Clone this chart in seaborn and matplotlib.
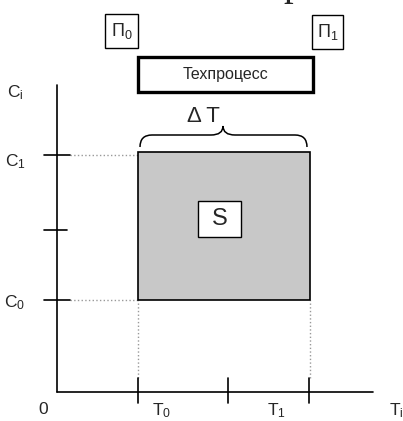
import matplotlib
matplotlib.use("Agg")
import matplotlib.pyplot as plt
import seaborn as sns
from matplotlib.path import Path
from matplotlib.patches import PathPatch, Rectangle

# diagram values (origin of the axes at 0, 0)
t_ticks = [81, 171, 252]          # T0, middle, T1
c_ticks = [92, 162, 237]          # C0, middle, C1
t_labels = ["T$_0$", "T$_1$"]
c_labels = ["C$_0$", "C$_1$"]
area_t = [81, 253]                # the shaded area S
area_c = [92, 240]
axis_len = [316, 307]             # length of T and C axes
process_box = [81, 256, 300, 335]  # Техпроцесс box: t0, t1, c0, c1
p_boxes = [[48, 81, 344, 378], [255, 286, 343, 377]]
p_labels = ["П$_0$", "П$_1$"]
s_box = [141, 184, 155, 191]
brace_t = [83, 166, 250]
brace_c = [245, 257, 266]

sns.set_style("white")
plt.rcParams["font.family"] = ["Liberation Sans", "DejaVu Sans"]
plt.rcParams["mathtext.fontset"] = "custom"
plt.rcParams["mathtext.rm"] = "Liberation Sans"
plt.rcParams["mathtext.it"] = "Liberation Sans"

fig = plt.figure(figsize=(4.03, 4.21), dpi=100)
ax = fig.add_axes([0, 0, 1, 1])
ax.set_xlim(-57, 346)
ax.set_ylim(-29, 392)
ax.axis("off")

lw = 1.2
# shaded area
ax.bar(area_t[0], area_c[1] - area_c[0], width=area_t[1] - area_t[0], bottom=area_c[0],
       align="edge", color="#c8c8c8", edgecolor="black", linewidth=lw, zorder=2)

# dotted guide lines
for c in (c_ticks[0], c_ticks[2]):
    ax.plot([13, area_t[0]], [c, c], ls=":", color="#999999", lw=1, zorder=1)
for t in (area_t[0], area_t[1]):
    ax.plot([t, t], [14, area_c[0]], ls=":", color="#999999", lw=1, zorder=1)

# axes
ax.plot([0, axis_len[0]], [0, 0], color="black", lw=lw)
ax.plot([0, 0], [0, axis_len[1]], color="black", lw=lw)
for t in t_ticks:
    ax.plot([t, t], [-11, 14], color="black", lw=lw)
for i, c in enumerate(c_ticks):
    ax.plot([-13, 13 if i != 1 else 10], [c, c], color="black", lw=lw)

# labels
fs = 12.5
ax.text(-14, -18, "0", ha="center", va="center", fontsize=fs)
ax.text(105, -19, t_labels[0], ha="center", va="center", fontsize=fs)
ax.text(219, -19, t_labels[1], ha="center", va="center", fontsize=fs)
ax.text(339, -19, "T$_\\mathrm{i}$", ha="center", va="center", fontsize=fs)
ax.text(-42, 299, "C$_\\mathrm{i}$", ha="center", va="center", fontsize=fs)
ax.text(-42, 230, c_labels[1], ha="center", va="center", fontsize=fs)
ax.text(-42, 89, c_labels[0], ha="center", va="center", fontsize=fs)

# S box
ax.add_patch(Rectangle((s_box[0], s_box[2]), s_box[1] - s_box[0], s_box[3] - s_box[2],
                       facecolor="white", edgecolor="black", lw=1, zorder=3))
ax.text((s_box[0] + s_box[1]) / 2, (s_box[2] + s_box[3]) / 2, "S",
        ha="center", va="center", fontsize=17, zorder=4)

# Техпроцесс box
ax.add_patch(Rectangle((process_box[0], process_box[2]), process_box[1] - process_box[0],
                       process_box[3] - process_box[2], facecolor="white",
                       edgecolor="black", lw=2.4, zorder=3))
ax.text((process_box[0] + process_box[1]) / 2, (process_box[2] + process_box[3]) / 2,
        "Техпроцесс", ha="center", va="center", fontsize=11.5, zorder=4)

# П boxes
for box, lab in zip(p_boxes, p_labels):
    ax.add_patch(Rectangle((box[0], box[2]), box[1] - box[0], box[3] - box[2],
                           facecolor="white", edgecolor="black", lw=1, zorder=3))
    ax.text((box[0] + box[1]) / 2, (box[2] + box[3]) / 2, lab,
            ha="center", va="center", fontsize=13, zorder=4)

# brace with ΔT
l, m, r = brace_t
lo, mid, hi = brace_c
verts = [(l, lo), (l, mid), (l + 12, mid), (m - 12, mid), (m, mid), (m, hi),
         (m, mid), (m + 12, mid), (r - 12, mid), (r, mid), (r, lo)]
codes = [Path.MOVETO, Path.CURVE3, Path.CURVE3, Path.LINETO, Path.CURVE3, Path.CURVE3,
         Path.CURVE3, Path.CURVE3, Path.LINETO, Path.CURVE3, Path.CURVE3]
ax.add_patch(PathPatch(Path(verts, codes), fill=False, edgecolor="black", lw=1.1))
ax.text(146, 275, "Δ T", ha="center", va="center", fontsize=16)

# cut-off letter at the top edge, as in the source picture
ax.text(236, 397, "р", ha="center", va="baseline", fontsize=28,
        family="Liberation Serif", clip_on=False)

fig.savefig("out.png", dpi=100)
